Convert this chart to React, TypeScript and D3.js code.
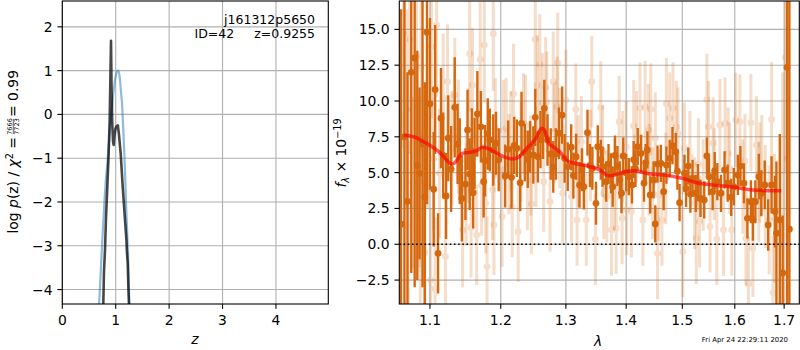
import * as d3 from 'd3';
import React from 'react';

// ---- p(z) panel ----
const zTicks = [0, 1, 2, 3, 4];
const logpTicks = [-4, -3, -2, -1, 0, 1, 2];

// blue curve (z, log p)
const pzBlue: [number, number][] = [
  [0.66, -5.0], [0.693, -4.24], [0.737, -3.17], [0.787, -2.03], [0.815, -1.5], [0.843, -1.12],
  [0.875, -0.6], [0.906, -0.13], [0.94, 0.3], [0.968, 0.63], [1.0, 0.88], [1.025, 0.98],
  [1.049, 1.0], [1.075, 0.85], [1.1, 0.5], [1.118, 0.25], [1.14, -0.3], [1.161, -0.89],
  [1.178, -1.45], [1.193, -2.03], [1.212, -2.6], [1.23, -3.17], [1.255, -4.32], [1.27, -5.0],
];

// dark curve (z, log p)
const pzDark: [number, number][] = [
  [0.76, -5.0], [0.768, -4.3], [0.78, -3.6], [0.8, -3.08], [0.82, -2.3], [0.843, -1.65],
  [0.868, -0.89], [0.887, -0.13], [0.9, 0.8], [0.912, 1.68], [0.922, 0.6], [0.935, -0.2],
  [0.95, -0.62], [0.962, -0.7], [0.975, -0.5], [0.995, -0.33], [1.015, -0.27], [1.04, -0.25],
  [1.06, -0.45], [1.093, -0.89], [1.131, -1.65], [1.174, -2.41], [1.2, -2.85], [1.208, -3.1],
  [1.225, -3.4], [1.238, -4.0], [1.25, -4.4], [1.26, -5.0],
];

// ---- spectrum panel ----
const lamTicks = [1.1, 1.2, 1.3, 1.4, 1.5, 1.6, 1.7];
const fluxTicks = [-2.5, 0, 2.5, 5, 7.5, 10, 12.5, 15];

// model (lambda, flux)
const specModel: [number, number][] = [
  [1.065, 7.63], [1.08, 7.47], [1.095, 7.05], [1.112, 6.47], [1.131, 5.6], [1.145, 6.35],
  [1.162, 6.47], [1.174, 6.77], [1.19, 6.47], [1.205, 6.1], [1.217, 5.95], [1.227, 6.1],
  [1.24, 6.74], [1.253, 7.4], [1.262, 8.1], [1.266, 7.98], [1.273, 7.05], [1.278, 6.86],
  [1.29, 6.47], [1.302, 5.84], [1.314, 5.65], [1.339, 5.42], [1.355, 5.19], [1.371, 4.77],
  [1.38, 4.84], [1.4, 5.07], [1.415, 5.12], [1.442, 4.9], [1.466, 4.84], [1.5, 4.6],
  [1.527, 4.3], [1.558, 4.14], [1.6, 3.98], [1.635, 3.79], [1.674, 3.74], [1.694, 3.74],
];

// dark points (lambda, flux, err)
const specDark: [number, number, number][] = [
  [1.0615, 1.4, 15], [1.066, 7.5, 12], [1.07, 3.0, 9], [1.075, 12.0, 14], [1.0795, 13.0, 16],
  [1.083, 5.5, 8], [1.086, 4.95, 6], [1.09, 7.0, 10], [1.093, 3.3, 8], [1.096, 14.8, 12],
  [1.1, 9.8, 6], [1.105, 3.84, 4], [1.107, 10.8, 4.5], [1.111, -0.63, 2.8], [1.115, 8.8, 3.5],
  [1.118, 6.2, 3], [1.122, 3.37, 3], [1.125, 7.4, 3], [1.129, 5.25, 3], [1.134, 9.56, 3.5],
  [1.138, 7.0, 2.8], [1.141, 5.8, 3], [1.144, 3.2, 3], [1.149, 4.2, 2.5], [1.152, 7.98, 2.8],
  [1.155, 4.9, 2.5], [1.158, 6.5, 3], [1.16, 3.6, 2.5], [1.162, 6.35, 2.5], [1.166, 9.1, 3],
  [1.171, 8.2, 2.5], [1.175, 4.37, 2.5], [1.177, 5.83, 2.5], [1.181, 7.7, 2.5], [1.184, 7.28, 2.2],
  [1.189, 6.58, 2.5], [1.193, 7.05, 2.2], [1.197, 5.9, 2.2], [1.2065, 4.77, 2.2], [1.211, 6.63, 2.0],
  [1.216, 4.67, 2.2], [1.22, 6.9, 2.0], [1.224, 6.7, 2.0], [1.229, 4.3, 2.0], [1.231, 8.44, 2.2],
  [1.236, 6.4, 2.0], [1.2405, 5.93, 2.0], [1.244, 6.81, 1.8], [1.249, 6.23, 2.0], [1.252, 8.86, 2.0],
  [1.256, 6.11, 1.8], [1.26, 7.3, 2.0], [1.264, 7.75, 1.8], [1.266, 9.49, 2.0], [1.271, 7.28, 1.8],
  [1.276, 6.3, 1.8], [1.28, 5.4, 1.8], [1.284, 6.3, 1.8], [1.289, 7.75, 1.8], [1.294, 9.02, 2.0],
  [1.298, 6.0, 1.7], [1.303, 5.42, 1.7], [1.3085, 6.77, 1.6], [1.312, 4.8, 1.6], [1.3165, 6.11, 1.6],
  [1.322, 4.14, 1.6], [1.326, 5.2, 1.5], [1.329, 4.02, 1.6], [1.335, 7.79, 1.6], [1.339, 5.5, 1.5],
  [1.343, 5.3, 1.5], [1.349, 2.86, 1.5], [1.352, 6.81, 1.5], [1.357, 5.9, 1.4], [1.36, 5.42, 1.4],
  [1.366, 4.37, 1.4], [1.37, 5.6, 1.4], [1.374, 4.95, 1.4], [1.377, 4.02, 1.4], [1.381, 6.2, 1.4],
  [1.385, 5.46, 1.4], [1.389, 4.5, 1.3], [1.392, 3.56, 1.4], [1.395, 6.16, 1.3], [1.4, 5.0, 1.3],
  [1.4046, 4.72, 1.3], [1.41, 4.14, 1.3], [1.413, 5.9, 1.3], [1.416, 5.3, 1.3], [1.42, 6.81, 1.3],
  [1.426, 6.35, 1.3], [1.431, 4.26, 1.3], [1.434, 5.7, 1.3], [1.437, 6.58, 1.3], [1.442, 3.44, 1.3],
  [1.448, 4.49, 1.3], [1.451, 1.42, 1.3], [1.455, 5.6, 1.3], [1.461, 5.65, 1.3], [1.466, 3.67, 1.3],
  [1.471, 5.53, 1.3], [1.477, 6.0, 1.3], [1.482, 6.88, 1.3], [1.488, 6.46, 1.3], [1.491, 5.1, 1.3],
  [1.495, 2.9, 1.3], [1.504, 4.95, 1.3], [1.507, 3.9, 1.3], [1.511, 5.46, 1.3], [1.515, 3.5, 1.3],
  [1.519, 4.6, 1.3], [1.525, 3.56, 1.3], [1.529, 4.3, 1.3], [1.534, 3.2, 1.3], [1.541, 3.09, 1.3],
  [1.546, 6.16, 1.3], [1.55, 4.72, 1.3], [1.557, 3.67, 1.3], [1.561, 5.14, 1.3], [1.566, 4.37, 1.3],
  [1.573, 3.56, 1.3], [1.58, 5.19, 1.3], [1.586, 4.26, 1.3], [1.593, 3.28, 1.3], [1.598, 4.02, 1.3],
  [1.606, 4.84, 1.4], [1.611, 5.46, 1.4], [1.618, 4.26, 1.4], [1.625, 1.81, 1.4], [1.632, 2.97, 1.5],
  [1.636, 1.74, 1.5], [1.641, 2.97, 1.5], [1.648, 4.72, 1.6], [1.653, 3.56, 1.6], [1.66, 4.14, 1.7],
  [1.667, 1.35, 1.8], [1.674, 4.14, 2.0], [1.681, 2.28, 2.5], [1.684, 0.77, 5], [1.691, 1.7, 6],
  [1.697, -2.0, 4], [1.706, 12.35, 30], [1.711, 1.05, 30],
];

// faint points (lambda, flux, err)
const specLight: [number, number, number][] = [
  [1.065, 14.7, 8], [1.069, 9.4, 7], [1.071, 1.2, 6], [1.073, 14.3, 8], [1.077, 4.3, 6],
  [1.082, 13.1, 7], [1.086, 4.4, 6], [1.087, 1.9, 6], [1.088, 12.4, 6], [1.093, -0.6, 5],
  [1.097, 8.5, 6], [1.101, -2.5, 5], [1.102, 13.8, 5], [1.105, 6.0, 5], [1.107, -3.1, 5],
  [1.109, 15.3, 5], [1.113, 4.95, 4.5], [1.118, 10.2, 4.5], [1.121, -0.86, 4], [1.124, 11.35, 4],
  [1.13, 6.7, 4], [1.134, 10.4, 4], [1.139, 7.5, 4], [1.145, 1.0, 4], [1.15, 3.9, 4],
  [1.153, 6.9, 4], [1.155, 13.3, 4], [1.157, 1.16, 3.5], [1.159, 11.1, 4], [1.165, 0.65, 3.5],
  [1.17, 12.9, 4], [1.172, 4.1, 3.5], [1.176, 13.9, 4], [1.178, 2.86, 3.5], [1.18, -1.56, 3.5],
  [1.188, 3.8, 3.5], [1.189, 14.7, 4], [1.19, 1.35, 3.5], [1.192, 8.1, 3.5], [1.202, 1.93, 3.5],
  [1.204, 7.98, 3.5], [1.208, 8.1, 3.5], [1.212, 5.6, 3.5], [1.215, 7.2, 3.5], [1.217, 2.6, 3.5],
  [1.219, 10.5, 3.5], [1.226, 0.88, 3.5], [1.23, 6.47, 3.5], [1.234, 8.44, 3.5], [1.237, 8.33, 3.5],
  [1.24, 4.49, 3.5], [1.245, 5.5, 3.5], [1.246, 2.81, 3.5], [1.252, 14.3, 4], [1.253, 6.1, 3.5],
  [1.255, 11.1, 3.5], [1.259, 12.56, 3.5], [1.263, 9.84, 3.5], [1.265, 4.37, 3.5], [1.268, 10.95, 3.5],
  [1.27, 9.95, 3.5], [1.275, 2.98, 3.5], [1.28, 11.35, 3.5], [1.282, 7.8, 3.5], [1.286, 9.6, 3.5],
  [1.287, 12.67, 3.5], [1.29, 7.4, 3.5], [1.295, 3.56, 3.5], [1.3, 10.07, 3.5], [1.309, 3.33, 3.2],
  [1.316, 9.42, 3.2], [1.318, 1.7, 3.2], [1.32, 5.8, 3.2], [1.325, 7.16, 3.2], [1.333, 1.7, 3.2],
  [1.34, 6.2, 3.2], [1.342, 11.35, 3.2], [1.348, 0.35, 3.2], [1.357, 9.56, 3.2], [1.36, 6.5, 3.2],
  [1.362, 3.56, 3.2], [1.367, 3.33, 3.2], [1.375, 1.0, 3.2], [1.38, 4.2, 3.2], [1.383, 1.12, 3.2],
  [1.388, 8.56, 3.2], [1.393, 1.81, 3.2], [1.394, 6.1, 3.2], [1.4, 6.8, 3.2], [1.401, 2.44, 3.2],
  [1.409, 2.28, 3.2], [1.413, 8.26, 3.2], [1.418, 7.5, 3.2], [1.424, 9.5, 3.2], [1.429, 1.7, 3.2],
  [1.433, 9.6, 3.2], [1.439, 7.98, 3.2], [1.44, 5.2, 3.2], [1.443, 9.42, 3.2], [1.446, 3.56, 3.2],
  [1.451, 7.4, 3.2], [1.455, -0.63, 3.2], [1.457, 3.44, 3.2], [1.463, 1.7, 3.2], [1.47, 4.6, 3.2],
  [1.471, 9.8, 3.2], [1.477, 8.8, 3.2], [1.483, 9.5, 3.2], [1.489, 8.2, 3.2], [1.492, 7.74, 3.2],
  [1.501, -0.51, 3.2], [1.504, 6.7, 3.2], [1.514, 6.1, 3.2], [1.523, 2.86, 3.2], [1.526, 0.42, 3.2],
  [1.53, 5.6, 3.2], [1.532, 1.58, 3.2], [1.539, 4.14, 3.2], [1.546, 10.1, 3.2], [1.549, 8.2, 3.2],
  [1.552, 1.23, 3.2], [1.558, 7.05, 3.2], [1.56, 4.9, 3.2], [1.565, 0.35, 3.2], [1.571, 8.33, 3.2],
  [1.578, 1.0, 3.2], [1.581, 8.44, 3.2], [1.587, 6.35, 3.2], [1.59, 5.3, 3.2], [1.594, 1.0, 3.2],
  [1.602, 8.67, 3.3], [1.61, 8.56, 3.3], [1.616, 4.02, 3.3], [1.62, 5.8, 3.3], [1.622, 0.42, 3.3],
  [1.627, -2.77, 3.3], [1.632, 8.49, 3.4], [1.636, -0.28, 3.4], [1.643, 6.93, 3.4], [1.648, 3.67, 3.5],
  [1.65, 5.0, 3.5], [1.654, 5.53, 3.5], [1.661, 3.33, 3.6], [1.669, 1.7, 3.8], [1.674, 8.72, 4],
  [1.677, -3.4, 4], [1.68, 1.81, 4.5], [1.697, 6.0, 6], [1.703, 13.05, 8],
];

const FONT = "'DejaVu Sans', sans-serif";
const ORANGE = '#d5680f';
const GRID = '#b0b0b0';
const TICK = 4.86;
const minus = (s: string) => s.replace('-', '\u2212');

export default function App() {
  const zx = d3.scaleLinear().domain([0, 4.98]).range([62.3, 328.3]);
  const zy = d3.scaleLinear().domain([-4.33, 2.59]).range([304, 1]);
  const lx = d3.scaleLog().domain([1.0593, 1.732]).range([399.3, 799.3]);
  const fy = d3.scaleLinear().domain([-4.17, 16.98]).range([304, 1]);

  const zLine = d3.line<[number, number]>().x(d => zx(d[0])).y(d => zy(d[1]));
  const blueLine = d3.line<[number, number]>().x(d => zx(d[0])).y(d => zy(d[1])).curve(d3.curveMonotoneX);
  const modelLine = d3.line<[number, number]>().x(d => lx(d[0])).y(d => fy(d[1])).curve(d3.curveMonotoneX);

  const [lx0, lx1] = zx.range();
  const [ly1, ly0] = zy.range();
  const [rx0, rx1] = lx.range();
  const [ry1, ry0] = fy.range();

  return (
    <svg width={800} height={350} style={{ position: 'absolute', left: 0, top: 0, background: '#fff' }} fontFamily={FONT}>
      <defs>
        <clipPath id="clipL"><rect x={lx0} y={ly0} width={lx1 - lx0} height={ly1 - ly0} /></clipPath>
        <clipPath id="clipR"><rect x={rx0} y={ry0} width={rx1 - rx0} height={ry1 - ry0} /></clipPath>
      </defs>

      {/* left panel */}
      <g>
        {zTicks.map(t => (
          <line key={'gx' + t} x1={zx(t)} x2={zx(t)} y1={ly0} y2={ly1} stroke={GRID} strokeWidth={1.1} />
        ))}
        {logpTicks.map(t => (
          <line key={'gy' + t} x1={lx0} x2={lx1} y1={zy(t)} y2={zy(t)} stroke={GRID} strokeWidth={1.1} />
        ))}
        <g clipPath="url(#clipL)">
          <path d={blueLine(pzBlue) || ''} fill="none" stroke="#1f77b4" strokeOpacity={0.5} strokeWidth={2.2} />
          <path d={zLine(pzDark) || ''} fill="none" stroke="#000" strokeOpacity={0.72} strokeWidth={2.6} strokeLinejoin="round" />
        </g>
        <rect x={lx0} y={ly0} width={lx1 - lx0} height={ly1 - ly0} fill="none" stroke="#000" strokeWidth={1.1} />
        {zTicks.map(t => (
          <g key={'tx' + t}>
            <line x1={zx(t)} x2={zx(t)} y1={ly1} y2={ly1 + TICK} stroke="#000" strokeWidth={1.1} />
            <text x={zx(t)} y={325} fontSize={13.9} textAnchor="middle">{t}</text>
          </g>
        ))}
        {logpTicks.map(t => (
          <g key={'ty' + t}>
            <line x1={lx0 - TICK} x2={lx0} y1={zy(t)} y2={zy(t)} stroke="#000" strokeWidth={1.1} />
            <text x={lx0 - 2 * TICK} y={zy(t)} dy="0.36em" fontSize={13.9} textAnchor="end">{minus(String(t))}</text>
          </g>
        ))}
        <text x={195} y={343.5} fontSize={13.9} fontStyle="italic" textAnchor="middle">z</text>
        <g transform="translate(18,154) rotate(-90)" fontSize={13.9}>
          <text x={17} y={0} textAnchor="end">
            log <tspan fontStyle="italic">p</tspan>(z) / <tspan fontStyle="italic">χ</tspan>
            <tspan dy={-5} fontSize={9.7}>2</tspan>
            <tspan dy={5}> =</tspan>
          </text>
          <text x={27.5} y={-6} fontSize={6.5} textAnchor="middle">7666</text>
          <line x1={20} x2={35} y1={-4.7} y2={-4.7} stroke="#000" strokeWidth={0.6} />
          <text x={27.5} y={0.8} fontSize={6.5} textAnchor="middle">7723</text>
          <text x={37} y={0}>= 0.99</text>
        </g>
        <text x={315} y={23.5} fontSize={12.5} textAnchor="end">j161312p5650</text>
        <text x={194.5} y={38.3} fontSize={12.5}>ID=42</text>
        <text x={315} y={38.3} fontSize={12.5} textAnchor="end">z=0.9255</text>
      </g>

      {/* right panel */}
      <g>
        {lamTicks.map(t => (
          <line key={'rgx' + t} x1={lx(t)} x2={lx(t)} y1={ry0} y2={ry1} stroke={GRID} strokeWidth={1.1} />
        ))}
        {fluxTicks.map(t => (
          <line key={'rgy' + t} x1={rx0} x2={rx1} y1={fy(t)} y2={fy(t)} stroke={GRID} strokeWidth={1.1} />
        ))}
        <g clipPath="url(#clipR)">
          {specLight.map((d, i) => (
            <g key={'l' + i} opacity={0.22}>
              <line x1={lx(d[0])} x2={lx(d[0])} y1={fy(d[1] - d[2])} y2={fy(d[1] + d[2])} stroke={ORANGE} strokeWidth={3} />
              <circle cx={lx(d[0])} cy={fy(d[1])} r={3.4} fill={ORANGE} />
            </g>
          ))}
          {specDark.map((d, i) => (
            <g key={'d' + i}>
              <line x1={lx(d[0])} x2={lx(d[0])} y1={fy(d[1] - d[2])} y2={fy(d[1] + d[2])} stroke={ORANGE} strokeWidth={2.4} />
              <circle cx={lx(d[0])} cy={fy(d[1])} r={3.4} fill={ORANGE} />
            </g>
          ))}
          <line x1={rx0} x2={rx1} y1={fy(0)} y2={fy(0)} stroke="#000" strokeWidth={1.6} strokeDasharray="1.6 2.6" />
          <path d={modelLine(specModel) || ''} fill="none" stroke="#ff0000" strokeOpacity={0.65} strokeWidth={3.6} strokeLinejoin="round" />
        </g>
        <rect x={rx0} y={ry0} width={rx1 - rx0} height={ry1 - ry0} fill="none" stroke="#000" strokeWidth={1.1} />
        {lamTicks.map(t => (
          <g key={'rtx' + t}>
            <line x1={lx(t)} x2={lx(t)} y1={ry1} y2={ry1 + TICK} stroke="#000" strokeWidth={1.1} />
            <text x={lx(t)} y={325} fontSize={13.9} textAnchor="middle">{t.toFixed(1)}</text>
          </g>
        ))}
        {fluxTicks.map(t => (
          <g key={'rty' + t}>
            <line x1={rx0 - TICK} x2={rx0} y1={fy(t)} y2={fy(t)} stroke="#000" strokeWidth={1.1} />
            <text x={rx0 - 2 * TICK} y={fy(t)} dy="0.36em" fontSize={13.9} textAnchor="end">{minus(d3.format('.1f')(t))}</text>
          </g>
        ))}
        <text x={598} y={345.5} fontSize={13.9} fontStyle="italic" textAnchor="middle">λ</text>
        <g transform="translate(346,153) rotate(-90)" fontSize={13.9}>
          <text x={0} y={0} textAnchor="middle">
            <tspan fontStyle="italic">f</tspan>
            <tspan dy={3} fontSize={9.7} fontStyle="italic">λ</tspan>
            <tspan dy={-3}> × 10</tspan>
            <tspan dy={-5.5} fontSize={9.7}>−19</tspan>
          </text>
        </g>
        <text x={788} y={341.5} fontSize={6.9} textAnchor="end">Fri Apr 24 22:29:11 2020</text>
      </g>
    </svg>
  );
}
